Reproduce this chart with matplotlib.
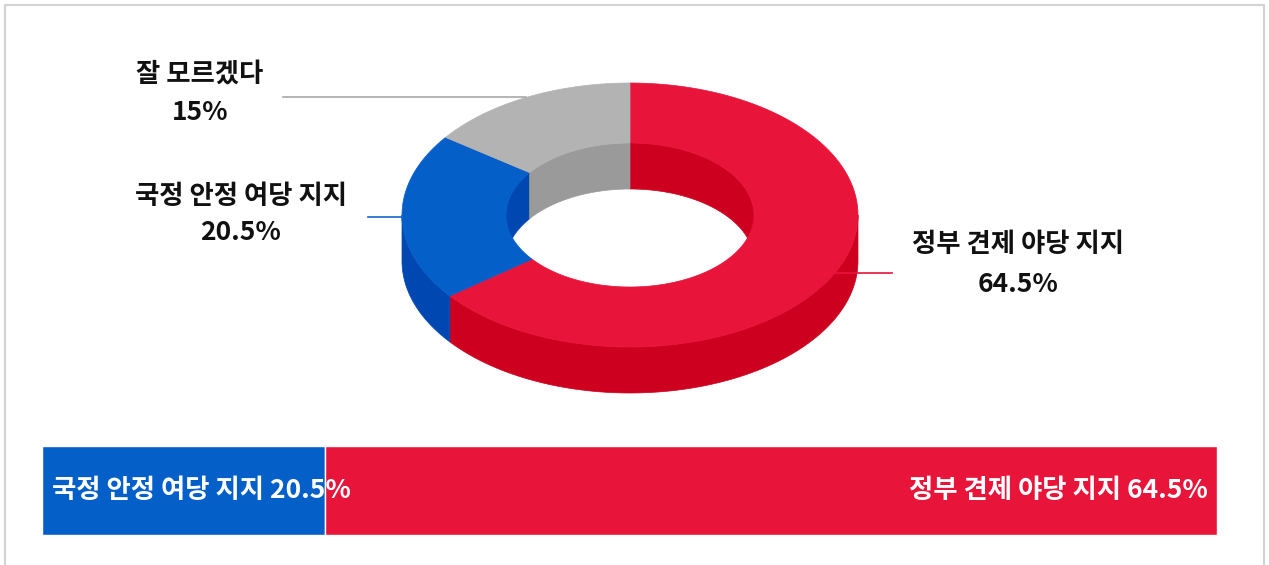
import numpy as np
import matplotlib
matplotlib.use("Agg")
import matplotlib.pyplot as plt
from matplotlib.patches import Polygon, Rectangle

plt.rcParams['font.family'] = ['Noto Sans CJK KR', 'DejaVu Sans']

# data
labels = ["정부 견제 야당 지지", "국정 안정 여당 지지", "잘 모르겠다"]
values = [64.5, 20.5, 15.0]
top_colors = ["#E8143A", "#055FC8", "#B3B3B3"]
side_colors = ["#CD001F", "#0047B2", "#9A9A9A"]
line_colors = ["#E8143A", "#1565D0", "#A8A8A8"]
# bar shows only the two party answers
bar_labels = ["국정 안정 여당 지지", "정부 견제 야당 지지"]
bar_values = [20.5, 64.5]
bar_colors = ["#055FC8", "#E8143A"]

# donut geometry (pixels)
cx, cy = 630, 215
rx_out, ry_out = 228, 132
rx_in, ry_in = 124, 72
depth = 46
FS = 19


def arc(rx, ry, a0, a1, dy=0, n=120):
    t = np.radians(np.linspace(a0, a1, n))
    return np.column_stack([cx + rx * np.cos(t), cy + dy - ry * np.sin(t)])


def clip(a0, a1, lo, hi):
    out = []
    for k in (-360, 0, 360):
        s, e = max(a0, lo + k), min(a1, hi + k)
        if e > s:
            out.append((s, e))
    return out


def wall(rx, ry, s, e):
    return np.vstack([arc(rx, ry, s, e), arc(rx, ry, e, s, dy=depth)])


fig = plt.figure(figsize=(12.69, 5.65), dpi=100)
ax = fig.add_axes([0, 0, 1, 1])
ax.set_xlim(0, 1269)
ax.set_ylim(565, 0)
ax.axis("off")

# frame
ax.plot([5, 5, 1264, 1264], [565, 5, 5, 565], color="#D2D2D2", lw=1.5)

# slices: start at top, going clockwise
fr = np.array(values) / sum(values) * 360
spans = []
a = 90.0
for f in fr:
    spans.append((a - f, a))
    a -= f
spans = [(s + 360, e + 360) if s < 0 else (s, e) for s, e in spans]

# inner walls (back half), outer walls (front half)
for (s0, e0), sc in zip(spans, side_colors):
    for s, e in clip(s0, e0, 0, 180):
        ax.add_patch(Polygon(wall(rx_in, ry_in, s, e), closed=True,
                             facecolor=sc, edgecolor=sc, lw=0.5))
    for s, e in clip(s0, e0, 180, 360):
        ax.add_patch(Polygon(wall(rx_out, ry_out, s, e), closed=True,
                             facecolor=sc, edgecolor=sc, lw=0.5))

# top faces
for (s, e), tc in zip(spans, top_colors):
    pts = np.vstack([arc(rx_out, ry_out, s, e), arc(rx_in, ry_in, e, s)])
    ax.add_patch(Polygon(pts, closed=True, facecolor=tc, edgecolor=tc, lw=0.5))

# leader lines and labels
label_x = [892, 368, 283]
label_pos = [(1018, 245, 285), (241, 196, 232), (200, 75, 112)]
for (s, e), lc, lx, lab, v, (tx, ty1, ty2) in zip(spans, line_colors, label_x,
                                                  labels, values, label_pos):
    m = np.radians((s + e) / 2)
    px, py = cx + rx_out * np.cos(m), cy - ry_out * np.sin(m)
    ax.plot([px, lx], [py, py], color=lc, lw=1.2)
    ax.text(tx, ty1, lab, ha="center", va="center", fontsize=FS,
            fontweight="bold", color="#111111")
    ax.text(tx, ty2, f"{v:g}%", ha="center", va="center", fontsize=FS,
            fontweight="bold", color="#111111")

# stacked bar at the bottom
bx0, bx1, by0, by1 = 42, 1217, 446, 535
scale = (bx1 - bx0) / sum(bar_values)
left = bx0
for v, c in zip(bar_values, bar_colors):
    ax.add_patch(Rectangle((left, by0), v * scale, by1 - by0, facecolor=c,
                           edgecolor="white", lw=1.0))
    left += v * scale
ymid = (by0 + by1) / 2
ax.text(bx0 + 10, ymid, f"{bar_labels[0]} {bar_values[0]}%", ha="left",
        va="center", fontsize=FS, fontweight="bold", color="white")
ax.text(bx1 - 9, ymid, f"{bar_labels[1]} {bar_values[1]}%", ha="right",
        va="center", fontsize=FS, fontweight="bold", color="white")

fig.savefig("out.png", dpi=100)
